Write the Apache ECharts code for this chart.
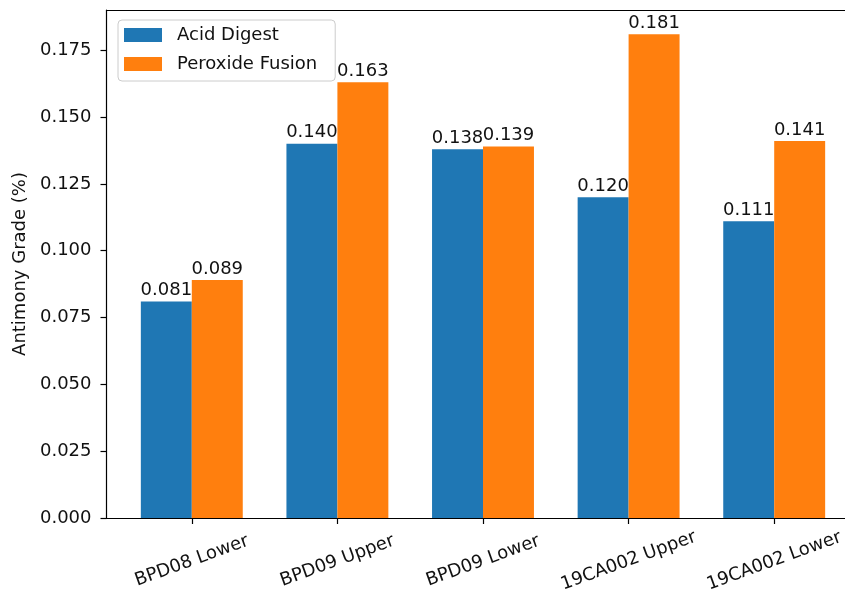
<!DOCTYPE html>
<html>
<head>
<meta charset="utf-8">
<script src="https://cdn.jsdelivr.net/npm/echarts@6/dist/echarts.min.js"></script>
<style>html,body{margin:0;padding:0;background:#fff;}#c{width:845px;height:601px;}</style>
</head>
<body>
<div id="c"></div>
<script>
const categories = ['BPD08 Lower', 'BPD09 Upper', 'BPD09 Lower', '19CA002 Upper', '19CA002 Lower'];
const acidDigest = [0.081, 0.140, 0.138, 0.120, 0.111];
const peroxideFusion = [0.089, 0.163, 0.139, 0.181, 0.141];
const yTicks = [0, 0.025, 0.05, 0.075, 0.1, 0.125, 0.15, 0.175];
const yMax = 0.19005;

const FONT = 'DejaVu Sans';
const FS = 18;
const TXT = '#111';
const SPINE = {show: true, lineStyle: {color: '#000', width: 1.2}};

const chart = echarts.init(document.getElementById('c'), null, {renderer: 'canvas'});
const labelCfg = {
  show: true, position: 'top', distance: 2,
  fontFamily: FONT, fontSize: FS, color: TXT,
  formatter: p => p.value.toFixed(3)
};
chart.setOption({
  animation: false,
  backgroundColor: '#fff',
  grid: [
    {left: 119, width: 728, top: 10, bottom: 83, show: false, outerBoundsMode: 'none', containLabel: false},
    {left: 106.5, width: 753, top: 10, bottom: 83, show: false, outerBoundsMode: 'none', containLabel: false}
  ],
  legend: {
    orient: 'vertical', left: 118, top: 20,
    itemWidth: 38, itemHeight: 14, itemGap: 11, icon: 'rect',
    padding: [6, 18, 8, 6],
    backgroundColor: 'rgba(255,255,255,0.8)',
    borderColor: '#cccccc', borderWidth: 1, borderRadius: 4,
    textStyle: {fontFamily: FONT, fontSize: FS, color: TXT, padding: [0, 0, 0, 10]},
    data: ['Acid Digest', 'Peroxide Fusion']
  },
  xAxis: [
    {
      type: 'category', gridIndex: 0, data: categories, boundaryGap: true,
      axisLine: {show: false},
      axisTick: {show: true, alignWithLabel: true, length: 6, lineStyle: {color: '#000', width: 1.2}},
      axisLabel: {rotate: 20, align: 'center', verticalAlign: 'middle', margin: 43, fontFamily: FONT, fontSize: FS, color: TXT},
      splitLine: {show: false}
    },
    {type: 'value', gridIndex: 1, position: 'bottom', min: 0, max: 1, axisLine: SPINE, axisTick: {show: false}, axisLabel: {show: false}, splitLine: {show: false}},
    {type: 'value', gridIndex: 1, position: 'top', min: 0, max: 1, axisLine: SPINE, axisTick: {show: false}, axisLabel: {show: false}, splitLine: {show: false}}
  ],
  yAxis: [
    {
      type: 'value', gridIndex: 0, min: 0, max: yMax, offset: 12.5,
      name: 'Antimony Grade (%)', nameLocation: 'middle', nameGap: 77,
      nameTextStyle: {fontFamily: FONT, fontSize: FS, color: TXT},
      axisLine: SPINE,
      axisTick: {show: true, length: 6, customValues: yTicks, lineStyle: {color: '#000', width: 1.2}},
      axisLabel: {margin: 15, fontFamily: FONT, fontSize: FS, color: TXT, customValues: yTicks, formatter: v => v.toFixed(3)},
      splitLine: {show: false}
    },
    {type: 'value', gridIndex: 1, show: false, min: 0, max: 1}
  ],
  series: [
    {name: 'Acid Digest', type: 'bar', xAxisIndex: 0, yAxisIndex: 0, data: acidDigest, barWidth: '35%', barGap: '0%', itemStyle: {color: '#1f77b4'}, label: labelCfg},
    {name: 'Peroxide Fusion', type: 'bar', xAxisIndex: 0, yAxisIndex: 0, data: peroxideFusion, barWidth: '35%', barGap: '0%', itemStyle: {color: '#ff7f0e'}, label: labelCfg}
  ]
});
</script>
</body>
</html>
